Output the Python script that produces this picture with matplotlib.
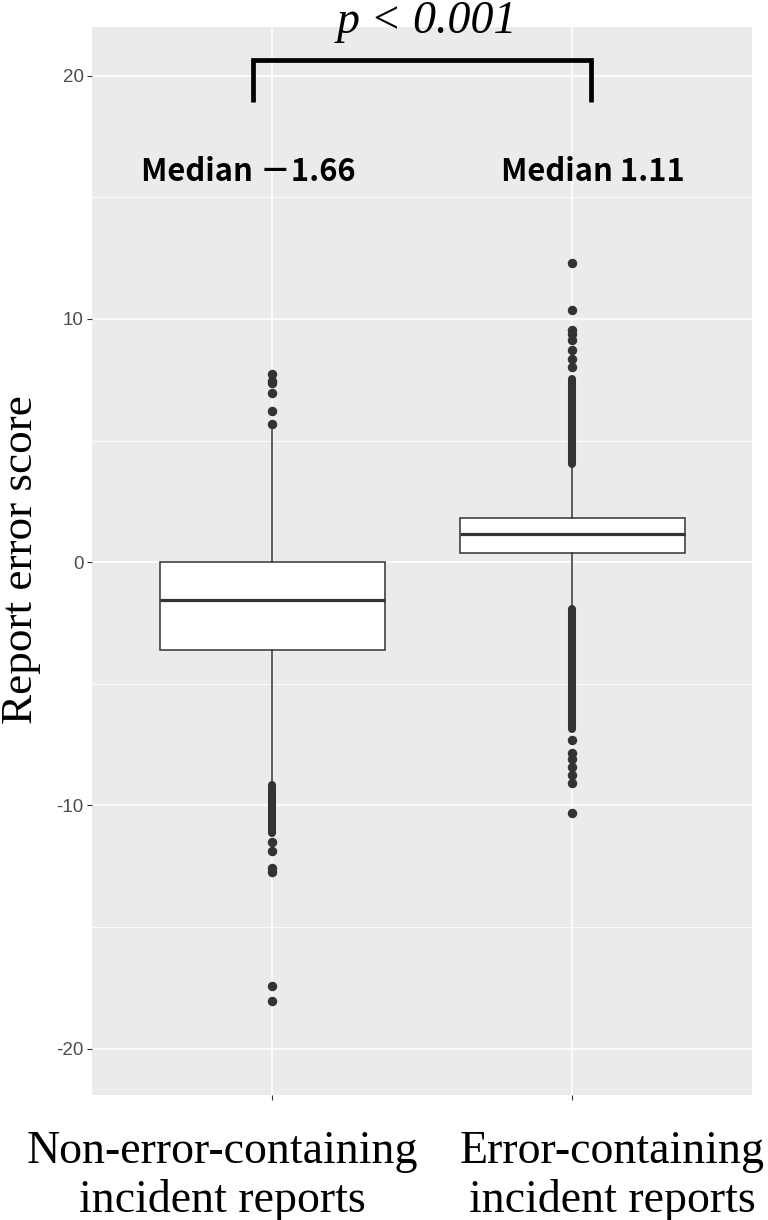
import matplotlib.pyplot as plt
import matplotlib.transforms as mtransforms

plt.rcParams['axes.unicode_minus'] = False

groups = ['Non-error-containing\nincident reports', 'Error-containing\nincident reports']
positions = [1, 2]
q1 = [-3.61, 0.37]
med = [-1.57, 1.15]
q3 = [0.0, 1.80]
whislo = [-8.98, -1.77]
whishi = [5.42, 3.90]

# single outliers
fliers = [
    [5.67, 6.21, 6.95, 7.35, 7.45, 7.72, -11.5, -11.87, -12.55, -12.75, -17.41, -18.03],
    [8.02, 8.36, 8.73, 9.12, 9.39, 9.55, 10.38, 12.31, -7.31, -7.86, -8.07, -8.41, -8.75, -9.09, -10.3],
]
# ranges where outliers overlap into a solid band
dense_x = [1, 2, 2]
dense_lo = [-11.12, 4.03, -6.87]
dense_hi = [-9.14, 7.52, -1.93]

median_labels = ['Median \uff0d1.66', 'Median 1.11']
median_label_x = [0.922, 2.068]
label_x = [0.833, 2.133]

dark = '#333333'

fig = plt.figure(figsize=(7.68, 12.2), dpi=100)
ax = fig.add_axes([92 / 768, 125 / 1220, 660 / 768, 1068 / 1220])
ax.set_facecolor('#EBEBEB')
for s in ax.spines.values():
    s.set_visible(False)

stats = []
for i in range(len(groups)):
    stats.append({'q1': q1[i], 'med': med[i], 'q3': q3[i],
                  'whislo': whislo[i], 'whishi': whishi[i], 'fliers': fliers[i]})

ax.bxp(stats, positions=positions, widths=0.75, showcaps=False, patch_artist=True,
       boxprops=dict(facecolor='white', edgecolor=dark, linewidth=1.1),
       medianprops=dict(color=dark, linewidth=2.3, solid_capstyle='butt'),
       whiskerprops=dict(color=dark, linewidth=1.1),
       flierprops=dict(marker='o', markersize=5.8, markerfacecolor=dark,
                       markeredgecolor=dark, linestyle='none'),
       zorder=3)
ax.vlines(dense_x, dense_lo, dense_hi, colors=dark, linewidth=5.8,
          capstyle='round', zorder=4)

ax.set_xlim(0.4, 2.6)
ax.set_ylim(-21.9, 22.0)
ax.set_yticks([-20, -10, 0, 10, 20])
ax.set_yticks([-15, -5, 5, 15], minor=True)
ax.set_xticks(positions)
ax.grid(which='major', color='white', linewidth=1.2, zorder=0)
ax.grid(which='minor', axis='y', color='white', linewidth=0.6, zorder=0)
ax.set_axisbelow(True)
ax.tick_params(axis='y', which='major', length=3.6, width=0.8, color=dark,
               labelcolor='#4D4D4D', labelsize=13.5, pad=2.5)
ax.tick_params(axis='y', which='minor', length=0)
ax.tick_params(axis='x', length=3.6, width=0.8, color=dark, labelbottom=False)
for t in ax.get_yticklabels():
    t.set_family('Liberation Sans')

trans = mtransforms.blended_transform_factory(ax.transData, fig.transFigure)
for i in range(len(groups)):
    ax.text(label_x[i], (1220 - 1212) / 1220, groups[i], transform=trans,
            ha='center', va='baseline', fontsize=33, family='Liberation Serif',
            multialignment='center', linespacing=1.17)
    ax.text(median_label_x[i], 15.69, median_labels[i], ha='center', va='baseline',
            fontsize=22.3, fontweight='bold', family=['Noto Sans CJK JP', 'DejaVu Sans'])

ax.plot([0.937, 0.937, 2.063, 2.063], [18.9, 20.64, 20.64, 18.9], color='black',
        linewidth=3.4, solid_joinstyle='miter', solid_capstyle='butt', clip_on=False, zorder=5)
ax.text(1.517, 21.77, 'p < 0.001', ha='center', va='baseline', fontsize=33,
        style='italic', family='Liberation Serif', clip_on=False)

fig.text(21 / 768, 0.541, 'Report error score', rotation=90, ha='center', va='center',
         fontsize=32.5, family='Liberation Serif')

fig.savefig('out.png', dpi=100)
